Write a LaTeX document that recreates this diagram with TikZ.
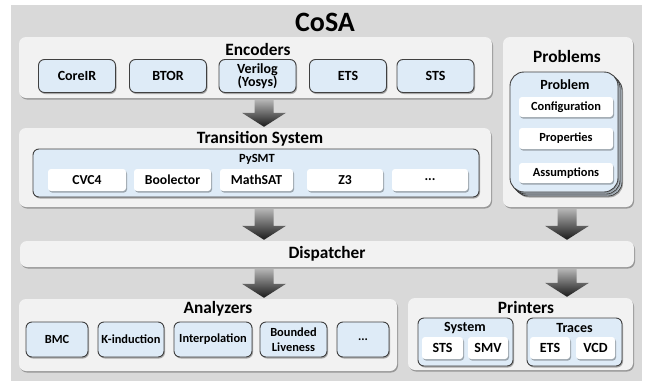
\documentclass[tikz,border=0pt]{standalone}
\usepackage{fontspec}
\setmainfont{Carlito}
\usetikzlibrary{shadows,calc}

\definecolor{canvasgray}{HTML}{D9D9D9}
\definecolor{panelgray}{HTML}{F2F2F2}
\definecolor{unitblue}{HTML}{DEEBF7}
\definecolor{edgegray}{HTML}{404040}

\tikzset{
  shadowed/.style={drop shadow={shadow xshift=1pt,shadow yshift=-1.5pt,opacity=.3,fill=black}},
  panel/.style={fill=panelgray,rounded corners=7pt,shadowed,inner sep=0pt},
  unit/.style={draw=edgegray,fill=unitblue,line width=.9pt,rounded corners=6pt,shadowed,align=center,inner sep=1pt},
  chip/.style={fill=white,rounded corners=3pt,shadowed,inner sep=1pt},
  sz/.style 2 args={minimum width=#1pt,minimum height=#2pt},
  fnt/.style={font=\fontsize{#1}{#1}\selectfont\bfseries},
  title/.style={fnt=17.3},
  flow/.style={top color=black!30,bottom color=black!90}
}

% block arrow at x of #1, from the bottom of #2 to the top of #3
\newcommand{\flowarrow}[3]{%
  \shade[flow] let \p1=(#1 |- #2.south), \p2=(#1 |- #3.north) in
    (\x1-9.5pt,\y1-2pt) -- (\x1-9.5pt,\y2+15pt) -- (\x1-22pt,\y2+15pt) -- (\x1,\y2+1pt)
    -- (\x1+22pt,\y2+15pt) -- (\x1+9.5pt,\y2+15pt) -- (\x1+9.5pt,\y1-2pt) -- cycle;}

\begin{document}
\begin{tikzpicture}[x=1pt,y=-1pt]
\useasboundingbox (0,0) rectangle (649,381);
\fill[canvasgray] (11,5) rectangle (642,381);
\node[fnt=28] (cosa) at (325,22) {CoSA};

% Encoders
\node[panel,sz={473}{61}] (enc) at (255.5,67.5) {};
\node[title] (enct) at (258,49) {Encoders};
\node[unit,sz={77}{33},fnt=14] (coreir) at (77,76) {CoreIR};
\node[unit,sz={77}{33},fnt=14] (btor) at (168,76) {BTOR};
\node[unit,sz={77}{33},fnt=14] (verilog) at (257.5,76) {Verilog\\[-1pt](Yosys)};
\node[unit,sz={77}{33},fnt=14] (ets) at (348,76) {ETS};
\node[unit,sz={77}{33},fnt=14] (sts) at (435.5,76) {STS};

% Transition System
\node[panel,sz={472}{79}] (ts) at (255,167.5) {};
\node[title] (tst) at (260,139) {Transition System};
\node[unit,sz={446}{48}] (pysmt) at (256,173) {};
\node[fnt=12.5] (pysmtt) at (257,159) {PySMT};
\node[chip,sz={78}{22},fnt=13.7] (cvc) at (87,180) {CVC4};
\node[chip,sz={77}{22},fnt=13.7] (boolector) at (172.5,180) {Boolector};
\node[chip,sz={73}{22},fnt=13.7] (mathsat) at (256.5,180) {MathSAT};
\node[chip,sz={76}{22},fnt=13.7] (zthree) at (345,180) {Z3};
\node[chip,sz={76}{22},fnt=13.7] (smore) at (430,180) {...};

% Problems
\node[panel,sz={130}{170}] (prob) at (568,122) {};
\node[title] (probt) at (567,56) {Problems};
\node[unit,sz={108}{120},rounded corners=14pt] (pb2) at (568,136) {};
\node[unit,sz={108}{120},rounded corners=14pt] (pb1) at (566,134) {};
\node[unit,sz={108}{120},rounded corners=14pt] (pb) at (564,132) {};
\node[fnt=14] (pbt) at (565,85) {Problem};
\node[chip,sz={94}{20},fnt=12.4] (config) at (566,107) {Configuration};
\node[chip,sz={94}{21},fnt=12.4] (props) at (566,138.5) {Properties};
\node[chip,sz={94}{20},fnt=12.4] (assum) at (566,173) {Assumptions};

% Dispatcher
\node[panel,sz={614}{26},fnt=17.3] (disp) at (327,254) {Dispatcher};

% Analyzers
\node[panel,sz={378}{72}] (ana) at (208,335) {};
\node[title] (anat) at (218,309) {Analyzers};
\node[unit,sz={62}{35},fnt=12.4] (bmc) at (57,339.5) {BMC};
\node[unit,sz={66}{35},fnt=12.4] (kind) at (131,339.5) {K-induction};
\node[unit,sz={78}{35},fnt=12.4] (interp) at (213,339.5) {Interpolation};
\node[unit,sz={67}{35},fnt=12.4] (bliv) at (293.5,339.5) {Bounded\\[3pt]Liveness};
\node[unit,sz={52}{35},fnt=12.4] (amore) at (363,339.5) {...};

% Printers
\node[panel,sz={225}{72}] (prn) at (520.5,334) {};
\node[title] (prnt) at (526,307) {Printers};
\node[unit,sz={95}{48}] (system) at (465.5,342) {};
\node[fnt=14] (systemt) at (465,328) {System};
\node[chip,sz={41}{22},fnt=14] (psts) at (442.5,348) {STS};
\node[chip,sz={40}{22},fnt=14] (psmv) at (488,348) {SMV};
\node[unit,sz={95}{48}] (traces) at (574.5,342) {};
\node[fnt=14] (tracest) at (574.5,328) {Traces};
\node[chip,sz={40}{22},fnt=14] (pets) at (550,348) {ETS};
\node[chip,sz={39}{22},fnt=14] (pvcd) at (595.5,348) {VCD};

% arrows
\coordinate (lx) at (264,0); \coordinate (rx) at (567,0);
\flowarrow{lx}{enc}{ts}
\flowarrow{lx}{ts}{disp}
\flowarrow{rx}{prob}{disp}
\flowarrow{lx}{disp}{ana}
\flowarrow{rx}{disp}{prn}
\end{tikzpicture}
\end{document}
